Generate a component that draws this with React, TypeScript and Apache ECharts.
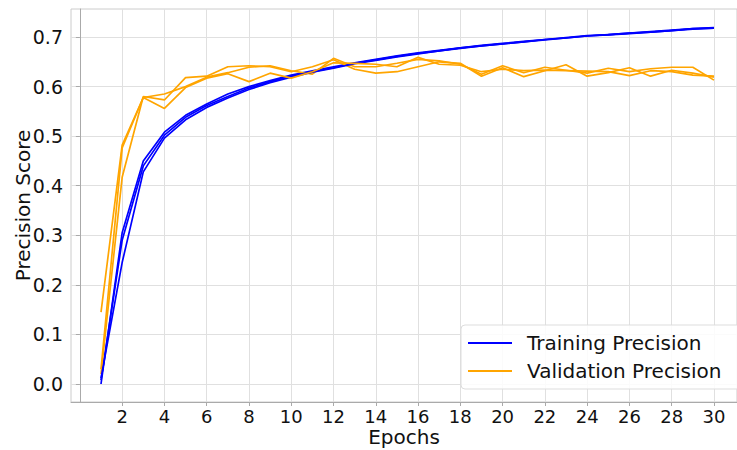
import React, { useEffect, useRef } from "react";
import * as echarts from "echarts";

const epochs = Array.from({ length: 30 }, (_, i) => i + 1);
const xTicks = [2, 4, 6, 8, 10, 12, 14, 16, 18, 20, 22, 24, 26, 28, 30];
const yTicks = [0, 0.1, 0.2, 0.3, 0.4, 0.5, 0.6, 0.7];

const trainRunA = [0.000, 0.305, 0.450, 0.508, 0.542, 0.565, 0.585, 0.600, 0.612, 0.623, 0.632, 0.640, 0.648, 0.655, 0.662, 0.668, 0.673, 0.678, 0.683, 0.687, 0.691, 0.695, 0.699, 0.703, 0.705, 0.708, 0.711, 0.714, 0.717, 0.719];
const trainRunB = [0.008, 0.290, 0.440, 0.502, 0.538, 0.562, 0.580, 0.597, 0.610, 0.621, 0.630, 0.638, 0.647, 0.654, 0.661, 0.667, 0.672, 0.678, 0.682, 0.686, 0.690, 0.695, 0.698, 0.702, 0.705, 0.708, 0.710, 0.713, 0.717, 0.718];
const trainRunC = [0.012, 0.245, 0.428, 0.496, 0.533, 0.558, 0.577, 0.594, 0.608, 0.619, 0.629, 0.637, 0.646, 0.653, 0.660, 0.666, 0.672, 0.677, 0.682, 0.686, 0.690, 0.694, 0.698, 0.702, 0.704, 0.707, 0.710, 0.713, 0.716, 0.718];

const valRunA = [0.145, 0.482, 0.578, 0.585, 0.600, 0.619, 0.628, 0.639, 0.642, 0.632, 0.625, 0.657, 0.640, 0.640, 0.647, 0.655, 0.652, 0.645, 0.625, 0.642, 0.628, 0.639, 0.633, 0.627, 0.637, 0.630, 0.636, 0.639, 0.639, 0.613];
const valRunB = [0.020, 0.417, 0.580, 0.573, 0.618, 0.621, 0.640, 0.642, 0.640, 0.630, 0.640, 0.654, 0.635, 0.627, 0.630, 0.640, 0.650, 0.647, 0.621, 0.638, 0.620, 0.632, 0.644, 0.621, 0.628, 0.638, 0.621, 0.633, 0.627, 0.619];
const valRunC = [0.030, 0.476, 0.578, 0.556, 0.598, 0.617, 0.626, 0.610, 0.627, 0.617, 0.630, 0.648, 0.647, 0.645, 0.640, 0.659, 0.645, 0.643, 0.630, 0.635, 0.632, 0.633, 0.632, 0.631, 0.630, 0.622, 0.632, 0.630, 0.623, 0.621];

const TRAIN = "Training Precision";
const VAL = "Validation Precision";
const FONT = "DejaVu Sans";

function toPairs(vals: number[]) {
  return epochs.map((e, i) => [e, vals[i]]);
}

export default function App() {
  const ref = useRef<HTMLDivElement>(null);
  useEffect(() => {
    document.body.style.margin = "0";
    if (!ref.current) return;
    const chart = echarts.init(ref.current, undefined, { renderer: "svg" });
    const mk = (name: string, color: string, vals: number[]) => ({
      name,
      type: "line",
      data: toPairs(vals),
      showSymbol: false,
      symbol: "none",
      lineStyle: { color, width: 1.7 },
      itemStyle: { color },
    });
    chart.setOption({
      animation: false,
      backgroundColor: "#ffffff",
      textStyle: { fontFamily: FONT },
      grid: {
        left: 71,
        right: 0,
        top: 9,
        bottom: 48,
        show: true,
        borderColor: "#cccccc",
        borderWidth: 1,
        containLabel: false,
        outerBoundsMode: "none",
      },
      legend: {
        orient: "vertical",
        left: 461,
        top: 325,
        data: [TRAIN, VAL],
        icon: "rect",
        itemWidth: 44,
        itemHeight: 2,
        itemGap: 8,
        padding: [8, 30, 8, 7],
        backgroundColor: "rgba(255,255,255,0.85)",
        borderColor: "#dddddd",
        borderWidth: 1,
        borderRadius: 4,
        textStyle: { fontFamily: FONT, fontSize: 20, color: "#111", padding: [0, 0, 0, 10] },
      },
      xAxis: {
        type: "value",
        min: -0.42,
        max: 31.09,
        name: "Epochs",
        nameLocation: "middle",
        nameGap: 25,
        nameMoveOverlap: false,
        nameTextStyle: { fontFamily: FONT, fontSize: 20, lineHeight: 20, color: "#111", verticalAlign: "top" },
        axisLine: { show: true, onZero: false, lineStyle: { color: "#aaaaaa" } },
        axisTick: { show: true, length: 4, lineStyle: { color: "#aaaaaa" }, customValues: xTicks },
        axisLabel: { fontFamily: FONT, fontSize: 18, lineHeight: 18, color: "#111", margin: 5, customValues: xTicks },
        splitLine: { show: true, lineStyle: { color: "#e0e0e0", width: 1 } },
      },
      yAxis: {
        type: "value",
        min: -0.0363,
        max: 0.7565,
        name: "Precision Score",
        nameLocation: "middle",
        nameGap: 38,
        nameMoveOverlap: false,
        nameTextStyle: { fontFamily: FONT, fontSize: 20, color: "#111" },
        axisLine: { show: true, lineStyle: { color: "#aaaaaa" } },
        axisTick: { show: true, length: 4, lineStyle: { color: "#aaaaaa" }, customValues: yTicks },
        axisLabel: {
          fontFamily: FONT,
          fontSize: 19,
          color: "#111",
          margin: 8,
          customValues: yTicks,
          formatter: (v: number) => v.toFixed(1),
        },
        splitLine: { show: true, lineStyle: { color: "#e0e0e0", width: 1 } },
      },
      series: [
        mk(TRAIN, "#0000ff", trainRunA),
        mk(VAL, "#ffa500", valRunA),
        mk(TRAIN, "#0000ff", trainRunB),
        mk(VAL, "#ffa500", valRunB),
        mk(TRAIN, "#0000ff", trainRunC),
        mk(VAL, "#ffa500", valRunC),
      ],
    });
    return () => chart.dispose();
  }, []);
  return <div ref={ref} style={{ width: 737, height: 450 }} />;
}
